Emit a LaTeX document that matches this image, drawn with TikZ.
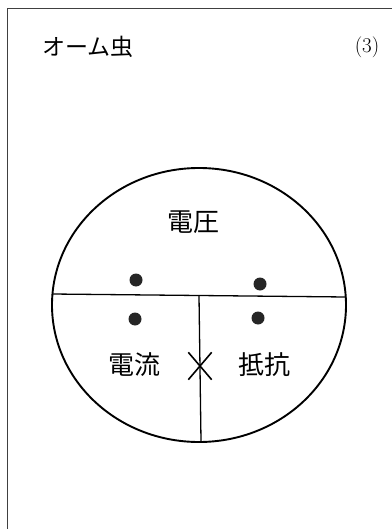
\documentclass[tikz,border=0pt]{standalone}
\usepackage{fontspec}
\newfontfamily\cjk{Noto Sans CJK JP}
\begin{document}
\begin{tikzpicture}[x=1pt,y=-1pt,
  lbl/.style={font=\cjk\fontsize{26}{26}\selectfont, inner sep=0pt},
  dotmark/.style={fill=black!85, circle, minimum size=13pt, inner sep=0pt},
  divider/.style={line width=1.3pt}]
\useasboundingbox (0,0) rectangle (391,529);
\draw[line width=1.1pt, black!75] (7.5,532) -- (7.5,8.5) -- (395,8.5);
\node[font=\cjk\fontsize{23}{23}\selectfont, anchor=west, inner sep=0pt] (title) at (42,47) {オーム虫};
\node[font=\fontsize{21}{21}\selectfont, inner sep=0pt] (num) at (367,47) {(3)};
% body
\draw[line width=1.9pt] (199,305) ellipse [x radius=147, y radius=137];
\coordinate (hl) at (52,294);
\coordinate (hr) at (346,297);
\coordinate (vt) at (199,296);
\coordinate (vb) at (201,441);
\draw[divider] (hl) -- (hr);
\draw[divider] (vt) -- (vb);
\node[lbl] (volt) at (193,222) {電圧};
\node[lbl] (curr) at (134,365) {電流};
\node[lbl] (res) at (264,365) {抵抗};
\node[dotmark] (d1) at (136,280) {};
\node[dotmark] (d2) at (260,284) {};
\node[dotmark] (d3) at (135,319) {};
\node[dotmark] (d4) at (258,318) {};
\node[minimum width=23pt, minimum height=27pt, inner sep=0pt] (x) at (200,366) {};
\draw[line width=1.6pt] (x.north west) -- (x.south east);
\draw[line width=1.6pt] (x.north east) -- (x.south west);
\end{tikzpicture}
\end{document}
